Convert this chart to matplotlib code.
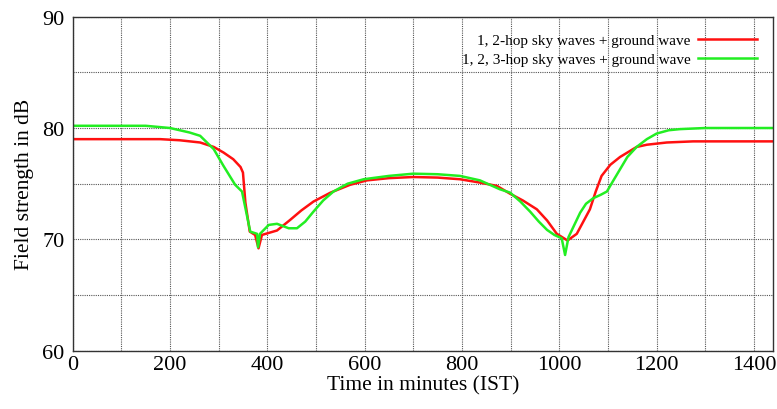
import numpy as np
import matplotlib.pyplot as plt
from matplotlib.ticker import MultipleLocator

# Time in minutes (IST) and field strength in dB
t_red = [0, 100, 180, 220, 262, 290, 310, 330, 345, 350, 355, 364, 375, 382,
         389, 420, 447, 470, 495, 530, 570, 605, 650, 700, 750, 796, 837, 872,
         899, 925, 954, 975, 995, 1017, 1036, 1063, 1075, 1087, 1105, 1125,
         1159, 1180, 1221, 1275, 1440]
fs_red = [79.0, 79.0, 79.0, 78.9, 78.7, 78.3, 77.8, 77.2, 76.5, 76.0, 73.3, 70.7,
          70.4, 69.2, 70.4, 70.8, 71.75, 72.6, 73.4, 74.2, 74.9, 75.3, 75.5, 75.6,
          75.55, 75.4, 75.1, 74.8, 74.1, 73.5, 72.7, 71.7, 70.5, 69.9, 70.5, 72.7,
          74.3, 75.7, 76.7, 77.4, 78.3, 78.5, 78.7, 78.8, 78.8]

t_green = [0, 100, 150, 200, 240, 262, 290, 310, 334, 348, 365, 379, 381, 385,
           403, 420, 444, 461, 478, 495, 515, 536, 565, 598, 650, 700, 750, 796,
           837, 878, 899, 920, 940, 958, 975, 990, 1005, 1012, 1019, 1043, 1055,
           1070, 1085, 1098, 1110, 1125, 1140, 1159, 1180, 1200, 1225, 1248,
           1300, 1440]
fs_green = [80.2, 80.2, 80.2, 80.0, 79.6, 79.3, 78.1, 76.6, 74.9, 74.3, 70.7, 70.5,
            69.3, 70.5, 71.3, 71.4, 71.0, 71.0, 71.6, 72.5, 73.5, 74.3, 75.0, 75.4,
            75.7, 75.9, 75.85, 75.7, 75.3, 74.5, 74.2, 73.4, 72.5, 71.6, 70.85,
            70.4, 70.1, 68.6, 70.2, 72.4, 73.2, 73.7, 74.0, 74.3, 75.2, 76.3, 77.4,
            78.3, 79.0, 79.5, 79.8, 79.9, 80.0, 80.0]

labels = ['1, 2-hop sky waves + ground wave',
          '1, 2, 3-hop sky waves + ground wave']

plt.rcParams['font.family'] = ['Liberation Serif', 'DejaVu Serif']

fig = plt.figure(figsize=(7.77, 4.10), dpi=100)
ax = fig.add_axes([0.0935, 0.142, 0.9018, 0.815])

ax.plot(t_red, fs_red, color='#ff1010', lw=1.8, label=labels[0])
ax.plot(t_green, fs_green, color='#22ee22', lw=1.8, label=labels[1])

ax.set_xlim(0, 1440)
ax.set_ylim(60, 90)
ax.xaxis.set_major_locator(MultipleLocator(200))
ax.xaxis.set_minor_locator(MultipleLocator(100))
ax.yaxis.set_major_locator(MultipleLocator(10))
ax.yaxis.set_minor_locator(MultipleLocator(5))
ax.grid(which='both', linestyle=(0, (1, 1)), color='#555555', lw=0.8)
ax.tick_params(which='both', length=0, labelsize=16)
ax.tick_params(axis='x', pad=3)
ax.tick_params(axis='y', pad=6)
for s in ax.spines.values():
    s.set_linewidth(1.0)
    s.set_color('#333333')

ax.set_xlabel('Time in minutes (IST)', fontsize=15.5, labelpad=1)
ax.set_ylabel('Field strength in dB', fontsize=15.5, labelpad=6)

leg = ax.legend(loc='upper right', fontsize=11, frameon=False, markerfirst=False,
                handlelength=3.8, handletextpad=0.5, labelspacing=0.35,
                borderaxespad=0.6, borderpad=0.5)

fig.savefig('out.png', dpi=100, facecolor='white')
